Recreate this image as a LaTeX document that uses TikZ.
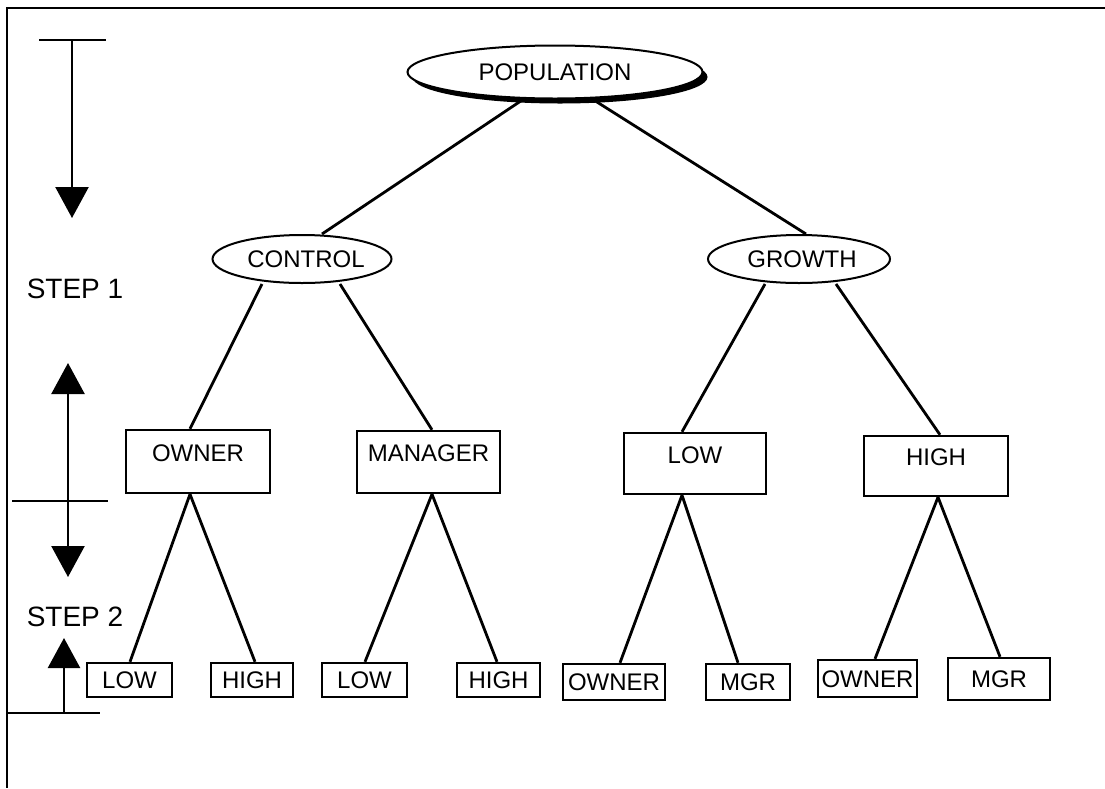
\documentclass[tikz,border=0pt]{standalone}
\usepackage{fontspec}
\setmainfont{Liberation Sans}
\usetikzlibrary{shapes.geometric,arrows.meta,shadows}
\begin{document}
\begin{tikzpicture}[x=1pt,y=-1pt,
  oval/.style={ellipse, draw, line width=2pt, fill=white, inner sep=0pt, font=\fontsize{24}{28}\selectfont},
  rbox/.style={rectangle, draw, line width=2.4pt, inner sep=0pt, font=\fontsize{24}{28}\selectfont, text height=17pt},
  tallbox/.style={rbox, text depth=18pt},
  leafbox/.style={rbox, text depth=0pt},
  conn/.style={line width=2.8pt},
  steplabel/.style={font=\fontsize{28}{32}\selectfont, inner sep=0pt},
  tick/.style={line width=2.8pt},
  tri/.style={line width=2.4pt, -{Triangle[width=33pt,length=31pt]}},
]
\useasboundingbox (0,0) rectangle (1105,788);
% frame
\coordinate (fr1) at (1105,8);
\coordinate (fr2) at (7,8);
\coordinate (fr3) at (7,788);
\draw[line width=2.4pt] (fr1) -- (fr2) -- (fr3);

% step arrows
\coordinate (ta) at (39,40);
\coordinate (tb) at (106,40);
\coordinate (tc) at (72,40);
\coordinate (td) at (72,218);
\draw[tick] (ta) -- (tb);
\draw[tri] (tc) -- (td);
\node[steplabel] (s1) at (75,289) {STEP 1};

\coordinate (ma) at (12,501);
\coordinate (mb) at (108,501);
\coordinate (mc) at (68,363);
\coordinate (md) at (68,501);
\coordinate (me) at (68,577);
\draw[tick] (ma) -- (mb);
\draw[tri] (md) -- (mc);
\draw[tri] (md) -- (me);
\node[steplabel] (s2) at (75,617) {STEP 2};

\coordinate (ba) at (7,713);
\coordinate (bb) at (100,713);
\coordinate (bc) at (64,713);
\coordinate (bd) at (64,638);
\draw[tick] (ba) -- (bb);
\draw[line width=2.4pt, -{Triangle[width=32pt,length=30pt]}] (bc) -- (bd);

% tree nodes
\node[oval, minimum width=295pt, minimum height=53pt,
      drop shadow={shadow xshift=5pt, shadow yshift=-5pt, fill=black, opacity=1}] (pop) at (555,72) {POPULATION};
\node[oval, minimum width=179pt, minimum height=48pt] (ctrl) at (302,259) {\hspace{8pt}CONTROL};
\node[oval, minimum width=182pt, minimum height=48pt] (grow) at (799,259) {\hspace{6pt}GROWTH};

\node[tallbox, minimum width=144pt, minimum height=63pt] (own) at (198,461.5) {OWNER};
\node[tallbox, minimum width=143pt, minimum height=62pt] (man) at (428.5,462) {MANAGER};
\node[tallbox, minimum width=142pt, minimum height=61pt] (glow) at (695,463.5) {LOW};
\node[tallbox, minimum width=144pt, minimum height=60pt] (ghigh) at (936,466) {HIGH};

\node[leafbox, minimum width=85pt, minimum height=34pt] (l1) at (129.5,680) {LOW};
\node[leafbox, minimum width=82pt, minimum height=34pt] (h1) at (252,680) {HIGH};
\node[leafbox, minimum width=85pt, minimum height=34pt] (l2) at (364.5,680) {LOW};
\node[leafbox, minimum width=83pt, minimum height=34pt] (h2) at (498.5,680) {HIGH};
\node[leafbox, minimum width=102pt, minimum height=36pt] (o1) at (614,682) {OWNER};
\node[leafbox, minimum width=84pt, minimum height=36pt] (m1) at (748,682) {MGR};
\node[leafbox, minimum width=99pt, minimum height=37pt] (o2) at (867.5,678.5) {OWNER};
\node[leafbox, minimum width=102pt, minimum height=42pt] (m2) at (999,679) {MGR};

% connectors
\draw[conn] ([xshift=-32pt]pop.south) -- ([xshift=20pt]ctrl.north);
\draw[conn] ([xshift=38pt]pop.south) -- ([xshift=7pt]grow.north);
\draw[conn] ([xshift=-40pt]ctrl.south) -- ([xshift=-8pt]own.north);
\draw[conn] ([xshift=38pt]ctrl.south) -- ([xshift=3.5pt]man.north);
\draw[conn] ([xshift=-34pt]grow.south) -- ([xshift=-13pt]glow.north);
\draw[conn] ([xshift=37pt]grow.south) -- ([xshift=4pt]ghigh.north);

\draw[conn] ([xshift=-8pt]own.south) -- ([xshift=0.5pt]l1.north);
\draw[conn] ([xshift=-8pt]own.south) -- ([xshift=3pt]h1.north);
\draw[conn] ([xshift=3.5pt]man.south) -- ([xshift=0.5pt]l2.north);
\draw[conn] ([xshift=3.5pt]man.south) -- ([xshift=-1.5pt]h2.north);
\draw[conn] ([xshift=-13pt]glow.south) -- ([xshift=6pt]o1.north);
\draw[conn] ([xshift=-13pt]glow.south) -- ([xshift=-10pt]m1.north);
\draw[conn] ([xshift=2pt]ghigh.south) -- ([xshift=7.5pt]o2.north);
\draw[conn] ([xshift=2pt]ghigh.south) -- ([xshift=1pt]m2.north);
\end{tikzpicture}
\end{document}
